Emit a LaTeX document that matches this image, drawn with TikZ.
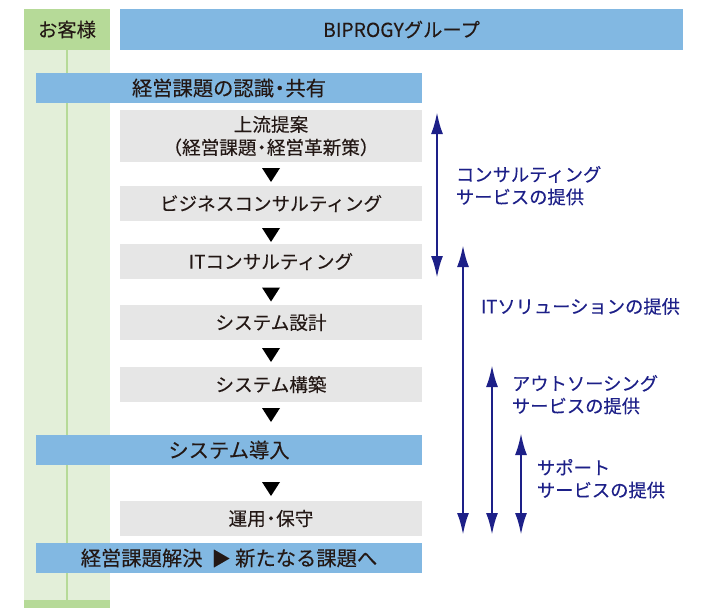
\documentclass[tikz,border=0pt]{standalone}
\usepackage{fontspec}
\setmainfont{Noto Sans CJK JP}[FakeBold=0.15]
\usetikzlibrary{arrows.meta}
\definecolor{hdrgreen}{HTML}{B6DA98}
\definecolor{bggreen}{HTML}{E3EFD9}
\definecolor{barblue}{HTML}{82B8E2}
\definecolor{boxgray}{HTML}{E6E6E6}
\definecolor{txt}{HTML}{231815}
\definecolor{navy}{HTML}{1D2088}
\newcommand{\ndot}{\hspace{-0.22em}・\hspace{-0.22em}}
\tikzset{
  every node/.style={inner sep=0pt, outer sep=0pt, text=txt, font=\fontsize{18.6}{23}\selectfont},
  bluebar/.style={fill=barblue, minimum width=386pt, minimum height=30pt, font=\fontsize{20.3}{24}\selectfont},
  hdr/.style={minimum height=41pt, font=\fontsize{19.3}{24}\selectfont},
  graybox/.style={fill=boxgray, minimum width=302pt},
  tri/.style={fill=black},
  svc/.style={navy, line width=2.6pt, {Latex[length=22pt,width=12pt]}-{Latex[length=22pt,width=12pt]}},
  svclabel/.style={text=navy, anchor=north west, align=left, font=\fontsize{18.3}{22.5}\selectfont}
}
\begin{document}
\begin{tikzpicture}[x=1pt,y=-1pt]
\useasboundingbox (0,0) rectangle (719,608);
% left column
\fill[bggreen] (24,50) rectangle (110,608);
\fill[hdrgreen] (24,600) rectangle (110,608);
\draw[hdrgreen, line width=2.5pt] (67,50) -- (67,600);
\node[hdr, fill=hdrgreen, minimum width=86pt] (cust) at (67,29.5) {お客様};
\node[hdr, fill=barblue, minimum width=563pt] (grp) at (401.5,29.5) {BIPROGYグループ};
% flow
\node[bluebar] (s1) at (229,88) {経営課題の認識\ndot 共有};
\node[graybox, minimum height=52pt, align=center] (b1) at (271,136) {上流提案\\（経営課題\ndot 経営革新策）};
\node[graybox, minimum height=35pt] (b2) at (271,203.5) {ビジネスコンサルティング};
\node[graybox, minimum height=35pt] (b3) at (271,261.5) {ITコンサルティング};
\node[graybox, minimum height=35pt] (b4) at (271,322.5) {システム設計};
\node[graybox, minimum height=35pt] (b5) at (271,384.5) {システム構築};
\node[bluebar] (s2) at (229,450) {システム導入};
\node[graybox, minimum height=35pt] (b6) at (271,518.5) {運用\ndot 保守};
\node[bluebar] (s3) at (229,558) {経営課題解決\ \ {\fontsize{19}{19}\selectfont ▶}\ 新たなる課題へ};
% triangles
\foreach \y in {168,228,287.5,348,408,482}{
  \fill[tri] (262,\y) -- (280,\y) -- (271,\y+14) -- cycle;
}
% service arrows
\coordinate (c1t) at (437,112);
\coordinate (c1b) at (437,278);
\coordinate (c2t) at (463,245);
\coordinate (c2b) at (463,535);
\coordinate (c3t) at (492,365);
\coordinate (c3b) at (492,535);
\coordinate (c4t) at (521,433);
\coordinate (c4b) at (521,535);
\draw[svc] (c1t) -- (c1b);
\draw[svc] (c2t) -- (c2b);
\draw[svc] (c3t) -- (c3b);
\draw[svc] (c4t) -- (c4b);
\node[svclabel] (l1) at (456,166) {コンサルティング\\サービスの提供};
\node[svclabel] (l2) at (481,298) {ITソリューションの提供};
\node[svclabel] (l3) at (512,375) {アウトソーシング\\サービスの提供};
\node[svclabel] (l4) at (537,459) {サポート\\サービスの提供};
\end{tikzpicture}
\end{document}
